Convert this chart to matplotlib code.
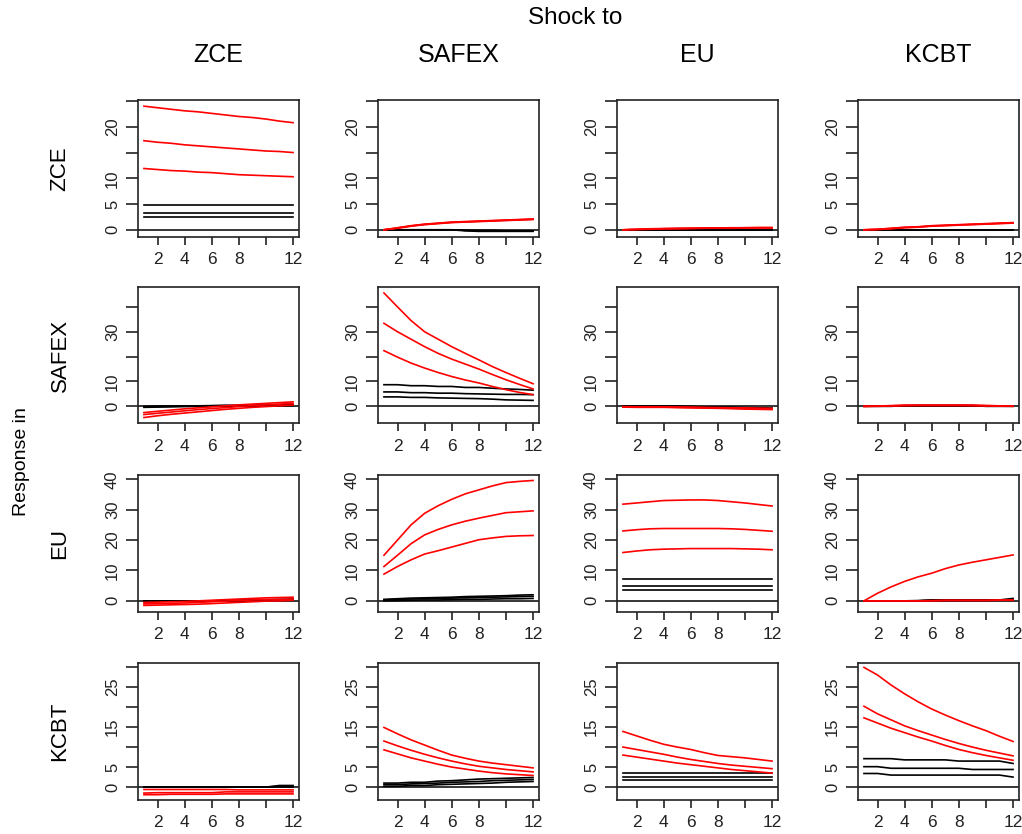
import matplotlib
matplotlib.use("Agg")
import matplotlib.pyplot as plt
import numpy as np

plt.rcParams['font.family'] = ['Liberation Sans', 'DejaVu Sans']

#%%- data: impulse responses, horizon 1..12
horizon = np.arange(1, 13)
markets = ['ZCE', 'SAFEX', 'EU', 'KCBT']

# response in ZCE
red_zce_zce = [[24.0, 23.7, 23.4, 23.1, 22.9, 22.6, 22.3, 22.0, 21.8, 21.5, 21.1, 20.8],
               [17.3, 17.0, 16.8, 16.5, 16.3, 16.1, 15.9, 15.7, 15.5, 15.3, 15.2, 15.0],
               [11.9, 11.7, 11.5, 11.4, 11.2, 11.1, 10.9, 10.7, 10.6, 10.5, 10.4, 10.3]]
blk_zce_zce = [[4.8, 4.8, 4.8, 4.8, 4.8, 4.8, 4.8, 4.8, 4.8, 4.8, 4.8, 4.8],
               [3.35, 3.35, 3.35, 3.35, 3.35, 3.35, 3.35, 3.35, 3.35, 3.35, 3.35, 3.35],
               [2.4, 2.4, 2.4, 2.4, 2.4, 2.4, 2.4, 2.4, 2.4, 2.4, 2.4, 2.4]]
red_zce_safex = [[0.0, 0.4, 0.8, 1.1, 1.3, 1.5, 1.6, 1.7, 1.8, 1.9, 2.0, 2.1],
                 [0.0, 0.35, 0.75, 1.05, 1.25, 1.45, 1.55, 1.65, 1.75, 1.85, 1.95, 2.05],
                 [0.0, 0.3, 0.7, 1.0, 1.2, 1.4, 1.5, 1.6, 1.7, 1.8, 1.9, 2.0]]
blk_zce_safex = [[0.0, 0.0, 0.0, 0.0, 0.0, 0.0, -0.1, -0.2, -0.2, -0.2, -0.2, -0.2],
                 [0.0, 0.0, 0.0, 0.0, 0.0, 0.0, -0.2, -0.3, -0.3, -0.3, -0.3, -0.3],
                 [0.0, 0.0, 0.0, 0.0, 0.0, 0.0, -0.1, -0.1, -0.1, -0.2, -0.2, -0.2]]
red_zce_eu = [[0.0, 0.1, 0.2, 0.25, 0.3, 0.3, 0.35, 0.35, 0.4, 0.4, 0.45, 0.45],
              [0.0, 0.1, 0.15, 0.2, 0.25, 0.3, 0.3, 0.35, 0.35, 0.4, 0.4, 0.4],
              [0.0, 0.05, 0.1, 0.2, 0.2, 0.25, 0.3, 0.3, 0.3, 0.35, 0.35, 0.35]]
blk_zce_eu = [[0.0, 0.0, 0.0, 0.0, 0.0, 0.0, 0.0, 0.0, 0.0, 0.0, 0.0, 0.0],
              [0.0, 0.0, 0.0, 0.0, 0.0, 0.0, 0.0, 0.0, 0.0, 0.0, 0.0, 0.0],
              [0.0, 0.0, 0.0, 0.0, 0.0, 0.0, 0.0, 0.0, 0.0, 0.0, 0.0, 0.0]]
red_zce_kcbt = [[0.0, 0.1, 0.3, 0.5, 0.6, 0.8, 0.9, 1.0, 1.1, 1.2, 1.3, 1.4],
                [0.0, 0.1, 0.25, 0.45, 0.55, 0.75, 0.85, 0.95, 1.05, 1.15, 1.25, 1.35],
                [0.0, 0.05, 0.2, 0.4, 0.5, 0.7, 0.8, 0.9, 1.0, 1.1, 1.2, 1.3]]
blk_zce_kcbt = [[0.0, 0.0, 0.0, 0.0, 0.0, 0.0, 0.0, 0.0, 0.0, 0.0, 0.0, 0.0],
                [0.0, 0.0, 0.0, 0.0, 0.0, 0.0, 0.0, 0.0, 0.0, 0.0, 0.0, 0.0],
                [0.0, 0.0, 0.0, 0.0, 0.0, 0.0, 0.0, 0.0, 0.0, 0.0, 0.0, 0.0]]

# response in SAFEX
red_safex_zce = [[-2.5, -2.0, -1.5, -1.0, -0.6, -0.2, 0.2, 0.6, 0.9, 1.2, 1.5, 1.8],
                 [-3.3, -2.8, -2.3, -1.8, -1.3, -0.9, -0.5, -0.1, 0.3, 0.6, 0.9, 1.2],
                 [-4.5, -3.8, -3.2, -2.7, -2.2, -1.7, -1.2, -0.8, -0.4, -0.1, 0.2, 0.5]]
blk_safex_zce = [[0.0, 0.1, 0.1, 0.2, 0.2, 0.3, 0.4, 0.4, 0.5, 0.5, 0.6, 0.6],
                 [-0.2, -0.1, 0.0, 0.1, 0.1, 0.2, 0.3, 0.3, 0.3, 0.4, 0.4, 0.4],
                 [-0.4, -0.3, -0.2, -0.1, 0.0, 0.0, 0.1, 0.1, 0.2, 0.2, 0.2, 0.3]]
red_safex_safex = [[45.6, 40.0, 34.5, 30.0, 27.0, 24.0, 21.3, 18.7, 16.0, 13.6, 11.3, 9.1],
                   [33.4, 30.0, 27.0, 24.0, 21.3, 19.0, 17.0, 15.0, 12.8, 10.7, 8.8, 7.0],
                   [22.4, 19.8, 17.4, 15.4, 13.6, 12.0, 10.6, 9.4, 8.0, 6.7, 5.6, 4.7]]
blk_safex_safex = [[8.7, 8.7, 8.3, 8.3, 8.0, 8.0, 7.6, 7.6, 7.3, 7.0, 6.8, 6.5],
                   [5.8, 5.8, 5.5, 5.5, 5.3, 5.3, 5.1, 5.0, 4.9, 4.8, 4.8, 4.7],
                   [3.8, 3.8, 3.6, 3.6, 3.4, 3.3, 3.2, 3.1, 2.9, 2.6, 2.5, 2.4]]
red_safex_eu = [[-0.1, -0.2, -0.2, -0.2, -0.3, -0.3, -0.4, -0.5, -0.6, -0.6, -0.7, -0.8],
                [-0.2, -0.3, -0.3, -0.3, -0.4, -0.5, -0.6, -0.7, -0.8, -0.9, -1.0, -1.1],
                [-0.3, -0.4, -0.4, -0.4, -0.5, -0.6, -0.7, -0.8, -0.9, -1.1, -1.2, -1.3]]
blk_safex_eu = [[0.0, 0.0, 0.0, 0.0, 0.0, -0.1, -0.2, -0.3, -0.4, -0.5, -0.6, -0.7],
                [0.0, 0.0, 0.0, 0.0, 0.0, -0.1, -0.3, -0.4, -0.5, -0.6, -0.8, -0.9],
                [0.0, 0.0, 0.0, 0.0, -0.1, -0.2, -0.3, -0.5, -0.6, -0.7, -0.9, -1.0]]
red_safex_kcbt = [[0.0, 0.1, 0.3, 0.4, 0.4, 0.4, 0.4, 0.4, 0.4, 0.3, 0.2, 0.1],
                  [0.0, 0.1, 0.2, 0.4, 0.4, 0.4, 0.4, 0.4, 0.4, 0.3, 0.2, 0.1],
                  [0.0, 0.0, 0.2, 0.3, 0.4, 0.4, 0.4, 0.4, 0.3, 0.2, 0.1, 0.0]]
blk_safex_kcbt = [[0.0, 0.0, 0.0, 0.3, 0.4, 0.4, 0.4, 0.4, 0.4, 0.0, 0.0, 0.0],
                  [0.0, 0.0, 0.0, 0.0, 0.0, 0.0, 0.0, 0.0, 0.0, 0.0, 0.0, 0.0],
                  [0.0, 0.0, 0.0, 0.0, 0.0, 0.0, 0.0, 0.0, 0.0, 0.0, 0.0, 0.0]]

# response in EU
red_eu_zce = [[-0.5, -0.4, -0.3, -0.2, 0.0, 0.2, 0.4, 0.6, 0.8, 1.0, 1.1, 1.2],
              [-1.0, -0.9, -0.8, -0.7, -0.5, -0.3, -0.1, 0.1, 0.3, 0.4, 0.5, 0.6],
              [-1.5, -1.4, -1.3, -1.2, -1.1, -0.9, -0.7, -0.5, -0.3, -0.1, 0.0, 0.2]]
blk_eu_zce = [[0.0, 0.0, 0.0, 0.0, 0.0, 0.0, 0.1, 0.2, 0.3, 0.4, 0.5, 0.6],
              [0.0, 0.0, 0.0, 0.0, 0.0, 0.0, 0.0, 0.1, 0.2, 0.3, 0.3, 0.4],
              [0.0, 0.0, 0.0, 0.0, 0.0, 0.0, 0.0, 0.0, 0.1, 0.1, 0.2, 0.2]]
red_eu_safex = [[15.0, 20.0, 25.0, 28.8, 31.3, 33.4, 35.2, 36.5, 37.8, 38.9, 39.3, 39.6],
                [11.3, 15.0, 18.8, 21.7, 23.5, 25.0, 26.2, 27.2, 28.1, 29.0, 29.3, 29.6],
                [8.8, 11.3, 13.5, 15.4, 16.5, 17.7, 18.9, 20.1, 20.7, 21.2, 21.4, 21.5]]
blk_eu_safex = [[0.5, 0.7, 0.9, 1.0, 1.1, 1.2, 1.4, 1.5, 1.6, 1.7, 1.9, 2.0],
                [0.3, 0.5, 0.6, 0.7, 0.8, 0.9, 1.0, 1.1, 1.2, 1.3, 1.4, 1.5],
                [0.0, 0.1, 0.2, 0.3, 0.3, 0.4, 0.5, 0.5, 0.6, 0.7, 0.7, 0.8]]
red_eu_eu = [[31.8, 32.2, 32.6, 33.0, 33.1, 33.2, 33.2, 33.0, 32.6, 32.2, 31.7, 31.2],
             [23.0, 23.4, 23.7, 23.8, 23.8, 23.8, 23.8, 23.8, 23.7, 23.5, 23.2, 22.9],
             [15.9, 16.4, 16.8, 17.0, 17.1, 17.2, 17.2, 17.2, 17.2, 17.1, 17.0, 16.8]]
blk_eu_eu = [[7.2, 7.2, 7.2, 7.2, 7.2, 7.2, 7.2, 7.2, 7.2, 7.2, 7.2, 7.2],
             [4.8, 4.8, 4.8, 4.8, 4.8, 4.8, 4.8, 4.8, 4.8, 4.8, 4.8, 4.8],
             [3.5, 3.5, 3.5, 3.5, 3.5, 3.5, 3.5, 3.5, 3.5, 3.5, 3.5, 3.5]]
red_eu_kcbt = [[0.0, 2.5, 4.6, 6.4, 7.9, 9.1, 10.6, 11.8, 12.7, 13.5, 14.3, 15.1],
               [0.0, 0.0, 0.0, 0.0, 0.0, 0.1, 0.2, 0.2, 0.2, 0.2, 0.3, 0.3],
               [0.0, 0.0, 0.0, 0.0, 0.0, 0.0, 0.1, 0.1, 0.1, 0.1, 0.2, 0.2]]
blk_eu_kcbt = [[0.0, 0.0, 0.0, 0.0, 0.1, 0.3, 0.3, 0.3, 0.3, 0.3, 0.3, 0.8],
               [0.0, 0.0, 0.0, 0.0, 0.0, 0.2, 0.2, 0.2, 0.2, 0.2, 0.3, 0.4],
               [0.0, 0.0, 0.0, 0.0, 0.0, 0.1, 0.1, 0.1, 0.1, 0.1, 0.2, 0.2]]

# response in KCBT
red_kcbt_zce = [[-0.6, -0.6, -0.6, -0.6, -0.6, -0.6, -0.6, -0.7, -0.7, -0.7, -0.7, -0.7],
                [-1.5, -1.4, -1.4, -1.4, -1.4, -1.4, -1.2, -1.2, -1.2, -1.2, -1.2, -1.2],
                [-1.9, -1.9, -1.8, -1.8, -1.8, -1.8, -1.7, -1.7, -1.7, -1.7, -1.7, -1.7]]
blk_kcbt_zce = [[0.0, 0.0, 0.0, 0.0, 0.0, 0.0, 0.0, 0.0, 0.0, 0.0, 0.4, 0.4],
                [0.0, 0.0, 0.0, 0.0, 0.0, 0.0, 0.0, 0.0, 0.0, 0.0, 0.2, 0.2],
                [0.0, 0.0, 0.0, 0.0, 0.0, 0.0, 0.0, 0.0, 0.0, 0.0, 0.0, 0.0]]
red_kcbt_safex = [[14.9, 13.3, 11.8, 10.5, 9.2, 8.0, 7.2, 6.5, 6.0, 5.6, 5.2, 4.8],
                  [11.5, 10.3, 9.2, 8.2, 7.3, 6.5, 5.8, 5.2, 4.8, 4.4, 4.1, 3.8],
                  [9.3, 8.3, 7.3, 6.5, 5.7, 5.0, 4.5, 4.0, 3.6, 3.3, 3.1, 2.9]]
blk_kcbt_safex = [[1.0, 1.0, 1.2, 1.2, 1.5, 1.6, 1.8, 2.0, 2.1, 2.2, 2.3, 2.4],
                  [0.6, 0.6, 0.8, 0.9, 1.0, 1.2, 1.3, 1.4, 1.6, 1.7, 1.8, 1.9],
                  [0.2, 0.2, 0.4, 0.4, 0.6, 0.7, 0.8, 0.9, 1.0, 1.2, 1.3, 1.4]]
red_kcbt_eu = [[13.9, 12.8, 11.7, 10.7, 10.0, 9.4, 8.6, 7.9, 7.6, 7.3, 6.9, 6.5],
               [10.0, 9.4, 8.8, 8.2, 7.5, 6.9, 6.4, 5.9, 5.5, 5.2, 4.9, 4.6],
               [8.0, 7.5, 7.0, 6.5, 6.0, 5.6, 5.2, 4.8, 4.4, 4.1, 3.8, 3.5]]
blk_kcbt_eu = [[3.4, 3.4, 3.4, 3.4, 3.4, 3.4, 3.4, 3.4, 3.4, 3.4, 3.4, 3.4],
               [2.5, 2.5, 2.5, 2.5, 2.5, 2.5, 2.5, 2.5, 2.5, 2.5, 2.5, 2.5],
               [1.7, 1.7, 1.7, 1.7, 1.7, 1.7, 1.7, 1.7, 1.7, 1.7, 1.7, 1.7]]
red_kcbt_kcbt = [[29.9, 28.0, 25.5, 23.3, 21.3, 19.5, 18.0, 16.6, 15.3, 14.1, 12.7, 11.4],
                 [20.2, 18.3, 16.8, 15.3, 14.1, 13.0, 11.9, 10.9, 10.0, 9.2, 8.5, 7.8],
                 [17.3, 16.0, 14.7, 13.6, 12.5, 11.5, 10.4, 9.4, 8.6, 7.9, 7.3, 6.7]]
blk_kcbt_kcbt = [[7.1, 7.1, 7.1, 6.8, 6.8, 6.8, 6.8, 6.5, 6.5, 6.5, 6.5, 5.9],
                 [5.1, 5.1, 4.7, 4.7, 4.7, 4.7, 4.7, 4.7, 4.4, 4.4, 4.4, 4.4],
                 [3.4, 3.4, 3.0, 3.0, 3.0, 3.0, 3.0, 3.0, 3.0, 3.0, 3.0, 2.5]]

# y axis per response row
row_ylim = [(-1.3, 25.2), (-6.9, 48.0), (-3.5, 41.4), (-3.1, 31.0)]
row_yticks = [[0, 5, 10, 15, 20, 25], [0, 10, 20, 30, 40],
              [0, 10, 20, 30, 40], [0, 5, 10, 15, 20, 25, 30]]
row_ylabels = [['0', '5', '10', '', '20', ''], ['0', '10', '', '30', ''],
               ['0', '10', '20', '30', '40'], ['0', '5', '', '15', '', '25', '']]
xticks = [2, 4, 6, 8, 10, 12]
xlabels = ['2', '4', '6', '8', '', '12']

panels = {
    ('ZCE', 'ZCE'): (red_zce_zce, blk_zce_zce),
    ('ZCE', 'SAFEX'): (red_zce_safex, blk_zce_safex),
    ('ZCE', 'EU'): (red_zce_eu, blk_zce_eu),
    ('ZCE', 'KCBT'): (red_zce_kcbt, blk_zce_kcbt),
    ('SAFEX', 'ZCE'): (red_safex_zce, blk_safex_zce),
    ('SAFEX', 'SAFEX'): (red_safex_safex, blk_safex_safex),
    ('SAFEX', 'EU'): (red_safex_eu, blk_safex_eu),
    ('SAFEX', 'KCBT'): (red_safex_kcbt, blk_safex_kcbt),
    ('EU', 'ZCE'): (red_eu_zce, blk_eu_zce),
    ('EU', 'SAFEX'): (red_eu_safex, blk_eu_safex),
    ('EU', 'EU'): (red_eu_eu, blk_eu_eu),
    ('EU', 'KCBT'): (red_eu_kcbt, blk_eu_kcbt),
    ('KCBT', 'ZCE'): (red_kcbt_zce, blk_kcbt_zce),
    ('KCBT', 'SAFEX'): (red_kcbt_safex, blk_kcbt_safex),
    ('KCBT', 'EU'): (red_kcbt_eu, blk_kcbt_eu),
    ('KCBT', 'KCBT'): (red_kcbt_kcbt, blk_kcbt_kcbt),
}

#%%- figure
W, H = 1022, 834
fig = plt.figure(figsize=(W / 100, H / 100), dpi=100)

col_left = [138, 378, 617, 858]
row_top = [100, 287, 475, 663]
pw, ph = 161, 136.5

for i, resp in enumerate(markets):
    for j, shock in enumerate(markets):
        ax = fig.add_axes([col_left[j] / W, 1 - (row_top[i] + ph) / H, pw / W, ph / H])
        red, blk = panels[(resp, shock)]
        ax.axhline(0, color='black', lw=1.1, zorder=1)
        for s in blk:
            ax.plot(horizon, s, color='black', lw=1.2, zorder=2)
        for s in red:
            ax.plot(horizon, s, color='#ff0000', lw=1.2, zorder=3)
        ax.set_xlim(0.56, 12.44)
        ax.set_ylim(*row_ylim[i])
        ax.set_xticks(xticks)
        ax.set_xticklabels(xlabels, fontsize=12.5)
        ax.set_yticks(row_yticks[i])
        ax.set_yticklabels(row_ylabels[i], fontsize=12, rotation=90, va='center')
        ax.tick_params(axis='y', length=9, width=1.2, pad=4, colors='#222222')
        ax.tick_params(axis='x', length=5.5, width=1.2, pad=6, colors='#222222')
        for sp in ax.spines.values():
            sp.set_linewidth(1.2)
            sp.set_color('#222222')
        if i == 0:
            fig.text((col_left[j] + pw / 2) / W, 1 - 55 / H, shock,
                     ha='center', va='center', fontsize=18)
        if j == 0:
            fig.text(60 / W, 1 - (row_top[i] + ph / 2) / H, resp,
                     ha='center', va='center', rotation=90, fontsize=16)

fig.text(575 / W, 1 - 18 / H, 'Shock to', ha='center', va='center', fontsize=17.5)
fig.text(22 / W, 1 - 462 / H, 'Response in', ha='center', va='center',
         rotation=90, fontsize=14)

fig.savefig('out.png', dpi=100)
